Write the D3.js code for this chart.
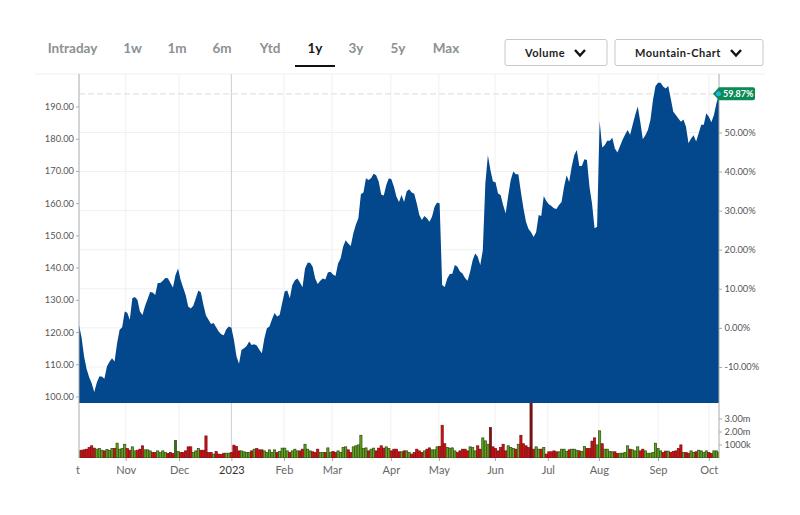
<!DOCTYPE html>
<html>
<head>
<meta charset="utf-8">
<script src="https://cdn.jsdelivr.net/npm/d3@7"></script>
<style>
  body { margin: 0; background: #fff; }
  svg { display: block; font-family: Lato, "Open Sans", sans-serif; }
  .tick text { font-family: Lato, sans-serif; }
</style>
</head>
<body>
<div id="chart"></div>
<script>
// closing prices, one per trading day
var closes = [
  122.2,118.4,112.4,108.5,106,104.1,101.4,104.3,106.2,106.2,105.5,109.3,110.8,111.9,110.9,116.5,120.7,121.5,126.4,126,
  123.8,130.5,130.9,130,126.4,125.3,128.1,130.2,132.4,132.3,131.5,135.2,135.2,135.9,136.8,136.7,135.2,133.8,137.7,139.7,
  136.2,133.8,131.5,127.9,127.3,128.2,130.5,132.9,132.3,128.4,125.1,123.8,122.5,122.8,121.5,120.2,119.3,119,120.9,121.7,
  121.3,117.6,112.5,110.2,114.5,115,115.7,117.1,116,116.2,115.8,114.5,113.4,118.1,121.2,121.7,124,125.9,124.8,125.3,
  129,132.6,132.9,130.5,134.6,136.1,136.6,135.4,133.9,139.7,141.5,141.5,140.3,136.6,134.9,135.9,136.6,136.3,138.5,138.7,
  137.9,137.4,141.3,142.8,146.5,148.5,147.5,146.7,150.6,153.3,155.3,162.8,163.3,167.7,167.2,167.7,169.1,168.7,166.7,162.7,
  162.4,165.6,167.7,167.4,165.1,162,160.4,162.5,160.4,163.6,164.3,163.3,162.9,159.9,156.3,154.8,156,155.3,154.2,155.8,
  158.9,160.2,159.9,134.6,134,136.6,138,138.1,140.8,140.3,138.8,138.2,136.8,135.9,138.7,142.3,144.4,143.4,140.8,145.4,
  166.1,174.9,170.3,166.7,166.5,163,162.5,159.4,156.8,162.3,167.2,169.8,169,169,163.5,158.4,154.2,152,151,149.5,
  151,156.3,156,162.2,160.7,159.7,159.1,158.4,158.2,159.4,160.4,165.1,168.7,166.6,171.3,174.9,176.5,171.5,171.5,173.6,
  173.4,165.1,159.9,152.2,152.7,185.5,177.3,178,179.4,179.4,180.3,177,175.7,177.7,179.6,181.2,182.7,181.2,184.3,187.4,
  190,185.3,179.8,181.1,182.7,185.8,192,196.4,197.4,197.4,196.2,195.6,196.4,192.5,188.4,187.4,186.3,185.3,186,183.7,
  178.6,180.1,181.1,179.1,181.7,184.3,184.3,187.9,186.8,185.1,187.4,191,193.9
];

// daily volume in thousands
var volumes = [
  510,560,590,640,770,900,720,640,690,560,510,610,540,690,690,1100,640,690,1020,690,
  560,820,510,560,640,900,590,590,510,380,380,510,380,510,380,310,380,310,1310,460,
  380,380,510,820,820,380,510,690,560,560,1660,380,380,260,460,260,230,330,330,330,
  380,950,850,510,510,440,380,380,510,640,690,590,590,510,380,590,380,590,380,460,
  720,720,510,380,510,640,510,510,640,1020,640,510,440,380,640,380,380,380,740,380,
  460,380,510,380,770,820,590,380,820,900,970,1710,690,740,510,640,720,510,720,900,
  720,820,690,510,640,640,440,440,510,510,380,260,380,640,510,380,510,640,740,590,
  590,820,850,2480,1060,770,720,740,510,380,510,640,640,510,820,770,510,900,640,1510,
  1280,1020,2300,820,690,510,770,1020,510,900,770,690,640,1020,1710,1060,900,770,4500,640,
  820,640,640,770,260,440,440,510,440,440,640,640,460,590,640,640,560,510,460,850,
  690,690,1260,1510,970,2050,1060,640,640,460,440,440,310,330,330,380,900,640,590,510,
  820,510,640,510,330,330,380,1100,690,510,380,490,490,380,460,510,690,970,380,380,
  330,510,380,440,560,510,380,510,380,310,510,510,380
];

var monthLabels = ["Nov", "Dec", "2023", "Feb", "Mar", "Apr", "May", "Jun", "Jul", "Aug", "Sep", "Oct"];
var monthIndex = [18.4, 39.4, 60, 80.7, 99.6, 122.8, 141.7, 163.8, 184.6, 204.7, 228, 248];
var priceTicks = [100, 110, 120, 130, 140, 150, 160, 170, 180, 190];
var pctTicks = [-10, 0, 10, 20, 30, 40, 50];
var volTicks = [1000, 2000, 3000];
var tabLabels = ["Intraday", "1w", "1m", "6m", "Ytd", "1y", "3y", "5y", "Max"];
var tabCenters = [72.5, 132.5, 177, 222, 270, 315, 356, 398, 446];
var activeTab = "1y";
var darkBars = [38, 162, 178];

var basePrice = 121.3;
var lastPct = 59.87;
var priceFloor = 98;

var width = 800, height = 515;
var plotLeft = 79, plotRight = 719, plotTop = 74, priceBottom = 403, volBottom = 458;

var svg = d3.select("#chart").append("svg")
    .attr("width", width)
    .attr("height", height);

var x = d3.scaleLinear().domain([0, closes.length - 1]).range([plotLeft, plotRight]);
var y = d3.scaleLinear().domain([100, 190]).range([396.5, 106.5]);
var yPct = d3.scaleLinear()
    .domain([-10, 50])
    .range([y(basePrice * 0.9), y(basePrice * 1.5)]);
var yVol = d3.scaleLinear().domain([0, 3000]).range([volBottom - 0.5, 418.5]);

svg.append("clipPath").attr("id", "plot-clip").append("rect")
    .attr("x", plotLeft).attr("y", priceBottom)
    .attr("width", plotRight - plotLeft).attr("height", volBottom - priceBottom);
svg.append("clipPath").attr("id", "label-clip").append("rect")
    .attr("x", 76).attr("y", 460).attr("width", 690).attr("height", 20);

// ---- tabs and the two dropdowns
svg.selectAll("text.tab")
    .data(tabLabels)
  .enter().append("text")
    .attr("class", "tab")
    .attr("x", function(d, i) { return tabCenters[i]; })
    .attr("y", 53)
    .attr("text-anchor", "middle")
    .style("font-size", "13.5px")
    .style("font-weight", 700)
    .style("fill", function(d) { return d == activeTab ? "#1a1a1a" : "#8b9194"; })
    .text(function(d) { return d; });

svg.append("rect").attr("x", 295).attr("y", 65).attr("width", 40).attr("height", 2).attr("fill", "#111");

function dropdown(label, bx, bw, tx, cx) {
  svg.append("rect")
      .attr("x", bx).attr("y", 39.5).attr("width", bw).attr("height", 26).attr("rx", 2)
      .attr("fill", "#fff").attr("stroke", "#c4c8cb");
  svg.append("text")
      .attr("x", tx).attr("y", 57)
      .style("font-size", "11px").style("font-weight", 700)
      .style("letter-spacing", "0.5px").style("fill", "#1c1c1c")
      .text(label);
  svg.append("path")
      .attr("d", "M" + (cx - 5) + " 50 L" + cx + " 55.5 L" + (cx + 5) + " 50")
      .attr("fill", "none").attr("stroke", "#111").attr("stroke-width", 2.4);
}
dropdown("Volume", 505, 102, 525, 580);
dropdown("Mountain-Chart", 615, 148, 635, 736);

// ---- grid
svg.append("line").attr("x1", 35).attr("x2", 765).attr("y1", plotTop).attr("y2", plotTop).attr("stroke", "#f0f0f0");

svg.selectAll("line.hgrid")
    .data(pctTicks)
  .enter().append("line")
    .attr("class", "hgrid")
    .attr("x1", plotLeft).attr("x2", plotRight)
    .attr("y1", function(d) { return yPct(d); })
    .attr("y2", function(d) { return yPct(d); })
    .attr("stroke", "#f0f0f0");

svg.selectAll("line.vgrid")
    .data(monthIndex)
  .enter().append("line")
    .attr("class", "vgrid")
    .attr("x1", function(d) { return x(d); })
    .attr("x2", function(d) { return x(d); })
    .attr("y1", plotTop).attr("y2", volBottom)
    .attr("stroke", function(d, i) { return monthLabels[i] == "2023" ? "#cfcfcf" : "#f0f0f0"; });

svg.append("line")
    .attr("x1", plotLeft).attr("x2", plotRight)
    .attr("y1", y(basePrice * (1 + lastPct / 100)))
    .attr("y2", y(basePrice * (1 + lastPct / 100)))
    .attr("stroke", "#dcdcdc")
    .attr("stroke-dasharray", "6,3");

// ---- mountain
var area = d3.area()
    .x(function(d, i) { return x(i); })
    .y0(y(priceFloor))
    .y1(function(d) { return y(d); });

svg.append("path")
    .datum(closes)
    .attr("d", area)
    .attr("fill", "#03478c");

// ---- volume bars, coloured by the day's move
svg.append("g")
    .attr("clip-path", "url(#plot-clip)")
  .selectAll("rect")
    .data(volumes)
  .enter().append("rect")
    .attr("x", function(d, i) { return x(i) - 1.1; })
    .attr("width", 2.2)
    .attr("y", function(d) { return yVol(d); })
    .attr("height", function(d) { return volBottom - yVol(d); })
    .attr("fill", function(d, i) {
      var up = i == 0 || closes[i] >= closes[i - 1];
      if (darkBars.indexOf(i) >= 0) return up ? "#3f6b1a" : "#7a1414";
      return up ? "#64a51f" : "#d80d12";
    })
    .attr("stroke", function(d, i) {
      var up = i == 0 || closes[i] >= closes[i - 1];
      return up ? "#2c4a12" : "#6e1010";
    })
    .attr("stroke-width", 0.7);

// ---- axes
function styleAxis(g) {
  g.select(".domain").remove();
  g.selectAll(".tick line").attr("stroke", "#aaa");
  g.selectAll(".tick text").style("font-size", "9.3px").style("fill", "#555");
}

svg.append("g")
    .attr("transform", "translate(" + plotLeft + ",0)")
    .call(d3.axisLeft(y).tickValues(priceTicks).tickFormat(d3.format(".2f")).tickSize(3).tickPadding(2))
    .call(styleAxis);

svg.append("g")
    .attr("transform", "translate(" + plotRight + ",0)")
    .call(d3.axisRight(yPct).tickValues(pctTicks).tickFormat(function(d) { return d.toFixed(2) + "%"; }).tickSize(3).tickPadding(2.5))
    .call(styleAxis);

svg.append("g")
    .attr("transform", "translate(" + plotRight + ",0)")
    .call(d3.axisRight(yVol).tickValues(volTicks).tickFormat(function(d) {
      return d >= 2000 ? (d / 1000).toFixed(2) + "m" : d + "k";
    }).tickSize(3).tickPadding(2.5))
    .call(styleAxis);

svg.append("line").attr("x1", plotLeft).attr("x2", plotLeft).attr("y1", plotTop).attr("y2", volBottom).attr("stroke", "#aaa");
svg.append("line").attr("x1", plotRight).attr("x2", plotRight).attr("y1", plotTop).attr("y2", volBottom).attr("stroke", "#aaa");

var xAxis = svg.append("g")
    .attr("transform", "translate(0," + volBottom + ")")
    .call(d3.axisBottom(x).tickValues(monthIndex)
      .tickFormat(function(d, i) { return monthLabels[i]; })
      .tickSize(3).tickPadding(5));
xAxis.select(".domain").remove();
xAxis.selectAll(".tick line").attr("stroke", "#aaa");
xAxis.selectAll(".tick text")
    .style("font-size", "11px")
    .style("fill", function(d, i) { return monthLabels[i] == "2023" ? "#333" : "#666"; });

// the previous October label is cut off by the left edge of the plot
svg.append("text")
    .attr("x", x(0) - 8).attr("y", 474)
    .attr("text-anchor", "middle")
    .attr("clip-path", "url(#label-clip)")
    .style("font-size", "11px").style("fill", "#666")
    .text("Oct");

// ---- last value badge
var lastY = y(basePrice * (1 + lastPct / 100));
svg.append("path")
    .attr("d", "M713 " + lastY + " L719 " + (lastY - 6.5) + " H753 Q755 " + (lastY - 6.5) + " 755 " + (lastY - 4.5) +
         " V" + (lastY + 4.5) + " Q755 " + (lastY + 6.5) + " 753 " + (lastY + 6.5) + " H719 Z")
    .attr("fill", "#0a8a55");
svg.append("circle").attr("cx", 718.5).attr("cy", lastY).attr("r", 2.5).attr("fill", "#22b5d6");
svg.append("text")
    .attr("x", 723).attr("y", lastY + 3.2)
    .style("font-size", "9px").style("font-weight", 700).style("fill", "#fff")
    .text(lastPct.toFixed(2) + "%");
</script>
</body>
</html>
